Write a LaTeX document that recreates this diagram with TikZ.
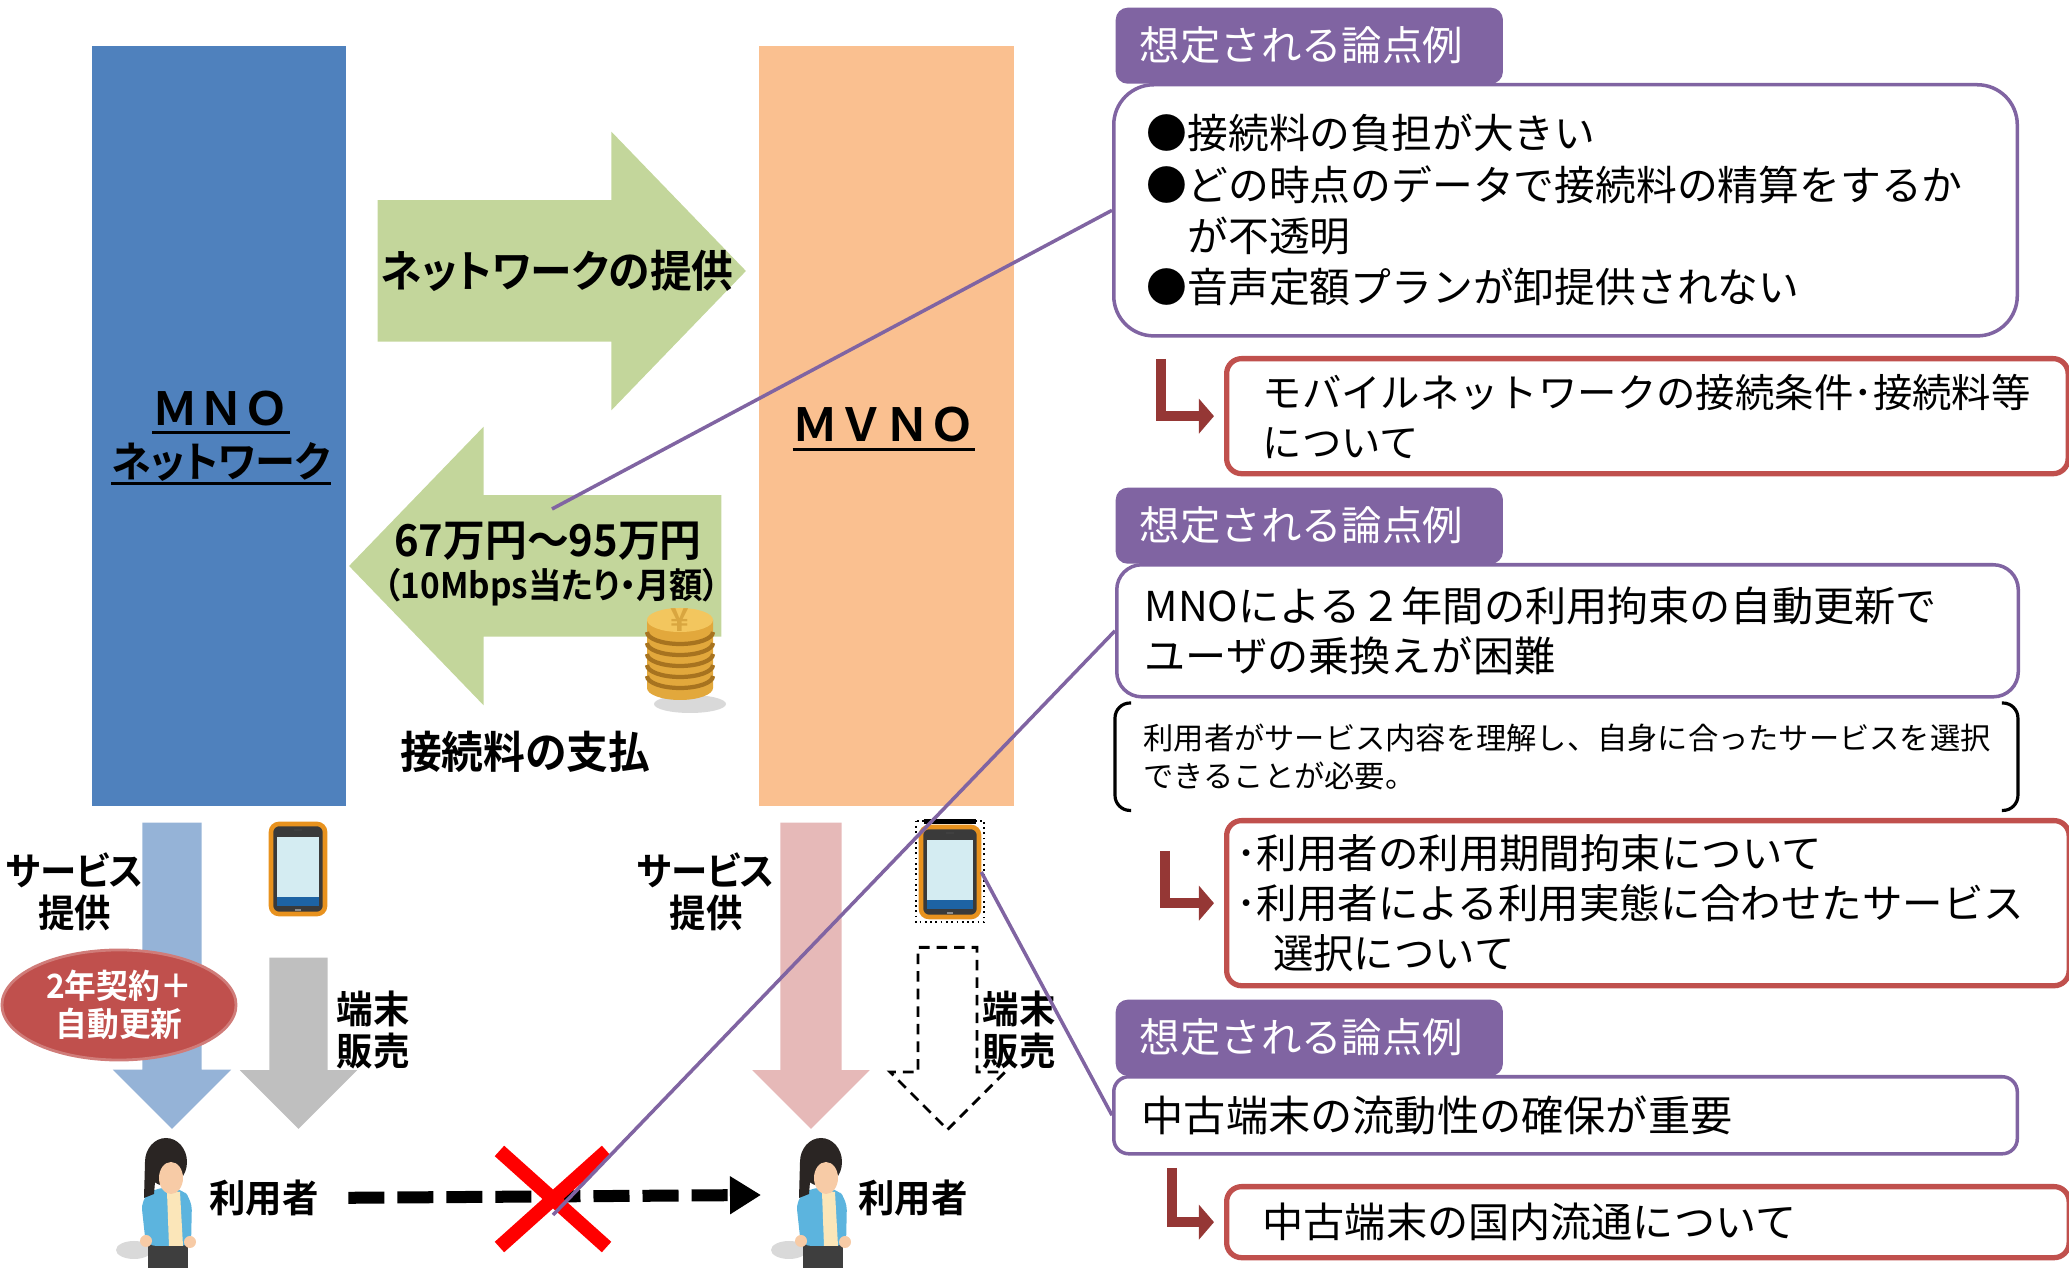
\documentclass[tikz,border=0pt]{standalone}
\usepackage{fontspec}
\setmainfont{Noto Sans CJK JP}
\newfontfamily\jpb[RawFeature=+palt,FakeStretch=0.95]{Noto Sans CJK JP Bold}
\newfontfamily\jpw{Noto Sans CJK JP Bold}
\usepackage{tikz}
\usetikzlibrary{
  shapes.geometric, shapes.arrows, shapes.misc, arrows.meta, calc
}

\definecolor{mnoblue}{HTML}{4F81BD}
\definecolor{mvnoorange}{HTML}{FAC090}
\definecolor{flowgreen}{HTML}{C3D69B}
\definecolor{svcblue}{HTML}{95B3D7}
\definecolor{devgray}{HTML}{BFBFBF}
\definecolor{svcpink}{HTML}{E6B9B8}
\definecolor{lockred}{HTML}{C0504D}
\definecolor{issuepurple}{HTML}{8064A2}
\definecolor{cornerred}{HTML}{953735}
\definecolor{phoneedge}{HTML}{E8921E}
\definecolor{phonebody}{HTML}{3A3A3A}
\definecolor{phonescreen}{HTML}{D4ECF2}
\definecolor{phonestrip}{HTML}{1D63A4}
\definecolor{userhair}{HTML}{2A2523}
\definecolor{userskin}{HTML}{F7CBA6}
\definecolor{userjacket}{HTML}{5CB4DE}
\definecolor{usershirt}{HTML}{FBE6B9}
\definecolor{userpants}{HTML}{3E3E3E}
\definecolor{coinside}{HTML}{E2A83C}
\definecolor{cointop}{HTML}{F3C65E}
\definecolor{coinedge}{HTML}{A7731F}
\definecolor{coinmark}{HTML}{D9A640}

% thick underline for the carrier names
\newcommand{\ulabel}[1]{\leavevmode\setbox0=\hbox{#1}%
  \rlap{\rule[-0.2em]{\wd0}{0.9pt}}\box0}

\tikzset{
  carrierbar/.style={
    minimum width=2.54cm, minimum height=7.6cm, inner sep=0pt
  },
  carrierlabel/.style={
    font=\jpb\fontsize{12}{14.8}\selectfont, align=center, inner sep=0pt
  },
  flowarrow/.style={
    single arrow, fill=flowgreen, minimum width=2.77cm,
    single arrow head extend=0.685cm, single arrow tip angle=92,
    inner xsep=0pt, inner ysep=0.7cm, anchor=tail
  },
  flowtext/.style={
    font=\jpb\fontsize{12.5}{15}\selectfont, inner sep=0pt, align=center
  },
  handarrow/.style={
    single arrow, rotate=-90, anchor=tail, minimum width=1.17cm,
    single arrow head extend=0.295cm, single arrow tip angle=90,
    inner xsep=0pt, inner ysep=0.29cm
  },
  sidetext/.style={
    font=\jpb\fontsize{10.9}{12}\selectfont, inner sep=0pt, align=center
  },
  lockbadge/.style={
    ellipse, fill=lockred, draw=lockred!75!white, line width=0.8pt,
    minimum width=2.34cm, minimum height=1.1cm, inner sep=0pt,
    text=white, align=center, font=\jpb\fontsize{9.5}{10.8}\selectfont
  },
  handset/.style={
    rectangle, rounded corners=0.08cm, fill=phonebody, draw=phoneedge,
    line width=1.3pt, minimum width=0.54cm, minimum height=0.9cm,
    inner sep=0pt,
    path picture={
      \fill[phonescreen, sharp corners]
        ([shift={(6,13)}]path picture bounding box.north west) rectangle
        ([shift={(-6,-17)}]path picture bounding box.south east);
      \fill[phonestrip, sharp corners]
        ([shift={(6,-17)}]path picture bounding box.south west) rectangle
        ([shift={(-6,-8)}]path picture bounding box.south east);
      \fill[black!75, sharp corners]
        ([shift={(-4,5)}]path picture bounding box.north) rectangle
        ([shift={(4,7)}]path picture bounding box.north);
      \fill[black!45, sharp corners]
        ([shift={(-3,-5)}]path picture bounding box.south) rectangle
        ([shift={(3,-3)}]path picture bounding box.south);
    }
  },
  blockmark/.style={
    cross out, draw=red, line width=4pt,
    minimum width=0.93cm, minimum height=0.82cm, inner sep=0pt
  },
  switcharrow/.style={
    -{Triangle[length=0.31cm,width=0.36cm]}, line width=0.12cm,
    dash pattern=on 0.36cm off 0.13cm
  },
  linkline/.style={issuepurple, line width=1pt},
  issuetab/.style={
    fill=issuepurple, rounded corners=0.12cm, anchor=north west,
    minimum height=0.76cm, text width=3.39cm, inner xsep=0.24cm,
    inner ysep=0pt, text=white, align=left,
    font=\fontsize{11.5}{13}\selectfont
  },
  issuebox/.style={
    draw=issuepurple, line width=1pt, fill=white, anchor=north west,
    align=left, inner ysep=0pt, font=\fontsize{11.6}{14.6}\selectfont
  },
  notebox/.style={
    anchor=north west, align=left, inner ysep=0pt, inner xsep=0.28cm,
    text width=8.45cm, minimum height=1.06cm,
    font=\fontsize{8.6}{10.8}\selectfont
  },
  notebracket/.style={line width=0.9pt, rounded corners=0.15cm},
  actionbox/.style={
    draw=lockred, line width=1.5pt, fill=white, rounded corners=0.15cm,
    anchor=north west, align=left, inner ysep=0pt,
    font=\fontsize{11.2}{14.2}\selectfont
  },
  actionarrow/.style={
    -{Triangle[length=0.15cm,width=0.34cm]}, draw=cornerred,
    line width=3pt, shorten >=0.1cm
  },
  userfig/.pic={
    \fill[black!15] (-32,50) ellipse (18 and 9);
    \fill[userpants] (-18,40) rectangle (22,70);
    \fill[userjacket, rounded corners=0.1cm]
      (-20,46) -- (-25,0) -- (-12,-12) -- (15,-12) -- (26,0) -- (25,46) -- cycle;
    \fill[usershirt] (1,-8) -- (14,-8) -- (17,46) -- (3,46) -- cycle;
    \fill[userskin] (-20,41) circle (6) (24,42) circle (6);
    \fill[userhair] (0,-38) ellipse (21 and 24);
    \fill[userhair] (-21,-38) -- (-22,-2) -- (-12,-6) -- (-10,-30) -- cycle;
    \fill[userskin] (5,-22) ellipse (12 and 16);
    \coordinate (-reach) at (-60,-5);
  },
  coinstack/.pic={
    \fill[black!15] (10,44) ellipse (36 and 9);
    \fill[coinside] (-33,-40) -- (-33,28)
      arc[start angle=180, end angle=0, x radius=33, y radius=12]
      -- (33,-40) -- cycle;
    \foreach \h in {-28,-17,-6,5,16}
      \draw[coinedge, line width=1.2pt] (-33,\h)
        arc[start angle=180, end angle=0, x radius=33, y radius=12];
    \fill[cointop] (0,-40) ellipse (33 and 12);
    \node[text=coinmark, font=\jpw\fontsize{9}{9}\selectfont, inner sep=0pt]
      (-mark) at (0,-40) {¥};
  },
}

\begin{document}
\begin{tikzpicture}[x=0.01cm, y=-0.01cm]
  \useasboundingbox (0,0) rectangle (2069,1268);

  % Carriers
  \node[carrierbar, fill=mnoblue] (mno) at (219,426) {};
  \node[carrierbar, fill=mvnoorange] (mvno) at (886.5,426) {};
  \node[carrierlabel] (mnoname) at (221,438)
    {{\jpw\fontsize{13}{14.8}\selectfont\ulabel{ＭＮＯ}}\\\ulabel{ネットワーク}};
  \node[carrierlabel, font=\jpw\fontsize{13}{14.8}\selectfont]
    (mvnoname) at (884,429) {\ulabel{ＭＶＮＯ}};

  % Wholesale flows
  \node[flowarrow, minimum height=3.68cm] (supply) at (377,271) {};
  \node[flowarrow, minimum height=3.72cm, rotate=180] (payment) at (722,566) {};
  \node[flowtext] (supplytext) at (557,271) {ネットワークの提供};
  \node[flowtext] (feetext) at (548,541) {67万円～95万円};
  \node[flowtext, font=\jpb\fontsize{10}{12}\selectfont]
    (feeunit) at (552,587) {（10Mbps当たり・月額）};
  \pic (coins) at (680,660) {coinstack};
  \node[flowtext] (feelabel) at (525,752) {接続料の支払};

  % Service and handset flows
  \node[handarrow, fill=svcblue, minimum height=3.06cm] (svc1) at (172,822) {};
  \node[handarrow, fill=devgray, minimum height=1.71cm,
    minimum width=1.15cm, inner ysep=0.285cm]
    (dev1) at (298.5,957) {};
  \node[handarrow, fill=svcpink, minimum height=3.06cm,
    minimum width=1.16cm, inner ysep=0.3cm, single arrow head extend=0.28cm]
    (svc2) at (811,822) {};
  \node[handarrow, fill=white, draw=black, densely dashed, line width=0.8pt,
    minimum height=1.82cm, minimum width=1.12cm, inner ysep=0.28cm,
    single arrow head extend=0.28cm] (dev2) at (947.5,946) {};

  \node[handset] (phone1) at (298,869) {};
  \node[handset, minimum width=0.58cm] (phone2) at (950,872) {};
  \draw[densely dotted, line width=0.5pt]
    ($(phone2.north west)+(-3,-4)$) rectangle ($(phone2.south east)+(3,3)$);
  \draw[line width=1.5pt]
    ($(phone2.north west)+(5,-3)$) -- ($(phone2.north east)+(-5,-3)$);

  \node[sidetext] (svc1text) at (75,892) {サービス\\提供};
  \node[sidetext] (svc2text) at (706,892) {サービス\\提供};
  \node[sidetext] (dev1text) at (373,1030) {端末\\販売};
  \node[sidetext] (dev2text) at (1019,1030) {端末\\販売};
  \node[lockbadge] (lock) at (119,1005) {2年契約＋\\自動更新};

  % Users and switching
  \pic (user1) at (166,1200) {userfig};
  \pic (user2) at (821,1200) {userfig};
  \node[sidetext] (name1) at (264,1198) {利用者};
  \node[sidetext] (name2) at (913,1198) {利用者};
  \draw[switcharrow, shorten <=0.29cm] (name1.east) -- (user2-reach);
  \node[blockmark] (block) at (553,1199) {};

  % Issue 1
  \node[issuebox, rounded corners=0.4cm, text width=8.37cm,
    inner xsep=0.33cm, minimum height=2.51cm] (issue1) at (1112,83)
    {●接続料の負担が大きい\\●どの時点のデータで接続料の精算をするか\\
     \hphantom{●}が不透明\\●音声定額プランが卸提供されない};
  \node[issuetab] (tab1) at (1115,7) {想定される論点例};
  \node[actionbox, text width=7.69cm, inner xsep=0.36cm,
    minimum height=1.15cm] (action1) at (1224,356)
    {モバイルネットワークの接続条件･接続料等\\について};
  \coordinate (turn1) at (1161,359);
  \draw[actionarrow] (turn1) |- (action1.west);

  % Issue 2
  \node[issuebox, rounded corners=0.25cm, text width=8.45cm,
    inner xsep=0.28cm, minimum height=1.32cm,
    font=\fontsize{11.7}{14.2}\selectfont] (issue2) at (1115,563)
    {MNOによる２年間の利用拘束の自動更新で\\ユーザの乗換えが困難};
  \node[issuetab] (tab2) at (1115,487) {想定される論点例};
  \node[notebox] (note) at (1115,703)
    {利用者がサービス内容を理解し、自身に合ったサービスを選択\\できることが必要。};
  \draw[notebracket] ($(note.north west)+(16,0)$) -- (note.north west)
    -- (note.south west) -- ($(note.south west)+(16,0)$);
  \draw[notebracket] ($(note.north east)+(-16,0)$) -- (note.north east)
    -- (note.south east) -- ($(note.south east)+(-16,0)$);
  \node[actionbox, text width=8.22cm, inner xsep=0.10cm,
    minimum height=1.65cm, font=\fontsize{11.5}{14.2}\selectfont]
    (action2) at (1224,818)
    {･利用者の利用期間拘束について\\･利用者による利用実態に合わせたサービス\\
     \hspace*{0.9em}選択について};
  \coordinate (turn2) at (1165,851);
  \draw[actionarrow] (turn2) |- (action2.west);

  % Issue 3
  \node[issuebox, rounded corners=0.15cm, text width=8.47cm,
    inner xsep=0.28cm, minimum height=0.77cm,
    font=\fontsize{12}{14}\selectfont] (issue3) at (1112,1075)
    {中古端末の流動性の確保が重要};
  \node[issuetab] (tab3) at (1115,999) {想定される論点例};
  \node[actionbox, text width=7.70cm, inner xsep=0.36cm,
    minimum height=0.71cm, font=\fontsize{11.7}{14}\selectfont]
    (action3) at (1224,1184) {中古端末の国内流通について};
  \coordinate (turn3) at (1172,1168);
  \draw[actionarrow] (turn3) |- (action3.west);

  % Links to the issue boxes
  \coordinate (feepin) at (552,509);
  \coordinate (blockpin) at (553,1215);
  \draw[linkline] (feepin) -- (issue1.west);
  \draw[linkline] (blockpin) -- (issue2.west);
  \draw[linkline] (phone2.east) -- (issue3.west);
\end{tikzpicture}
\end{document}
